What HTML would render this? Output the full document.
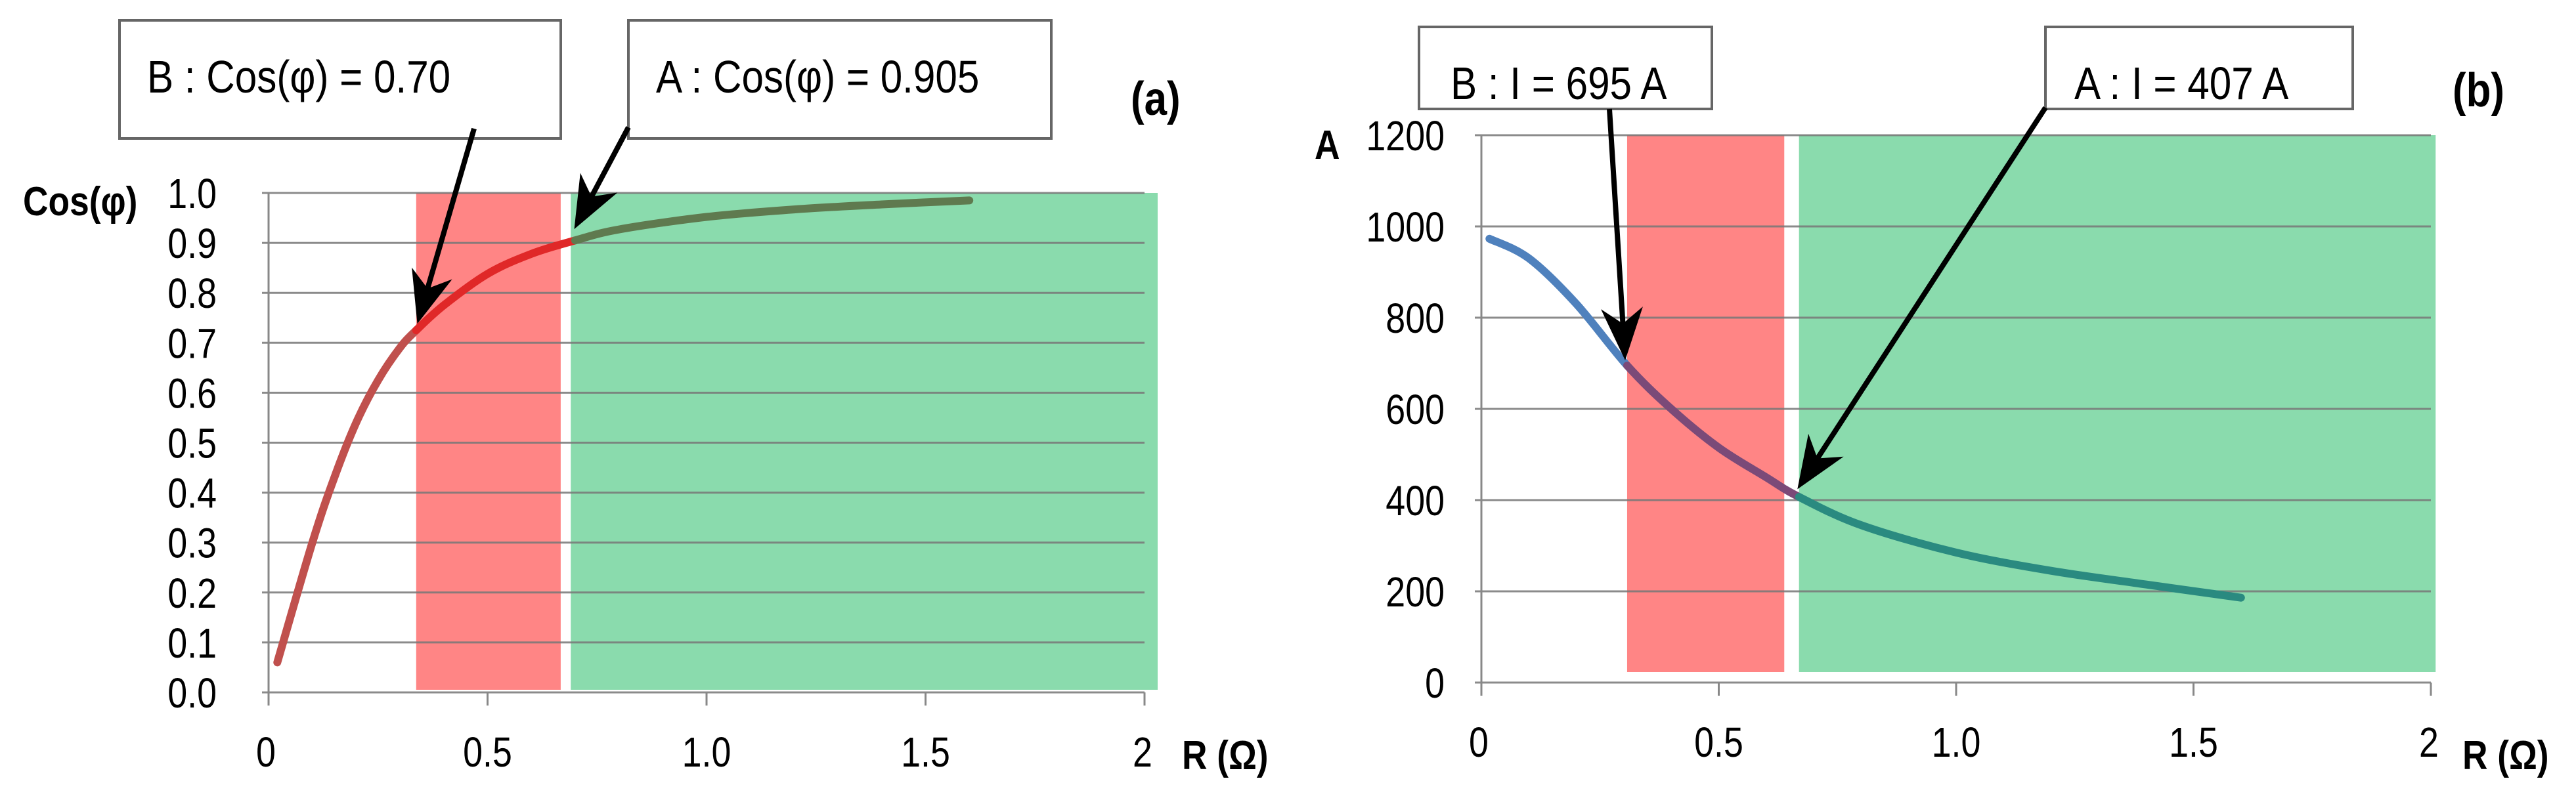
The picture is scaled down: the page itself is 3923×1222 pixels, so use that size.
<!DOCTYPE html>
<html><head><meta charset="utf-8"><style>
html,body{margin:0;padding:0;background:#fff;}
svg{display:block;font-family:"Liberation Sans",sans-serif;}
</style></head><body>
<svg id="chart" width="3923" height="1222" viewBox="0 0 3923 1222" xmlns="http://www.w3.org/2000/svg">
<defs>
<marker id="ah" markerWidth="10" markerHeight="10" refX="8" refY="5" orient="auto" markerUnits="strokeWidth"><path d="M0,1 L10,5 L0,9 L3,5 z" fill="#000"/></marker>
</defs>
<g id="pa"></g>
<g id="pb"></g>
</svg>
<script>
// Panel (a) data
const rA = [0.02,0.1,0.15,0.2,0.25,0.3,0.337,0.4,0.5,0.6,0.7,0.8,1.0,1.2,1.4,1.6];
const cosA = [0.06,0.30,0.43,0.54,0.625,0.69,0.725,0.775,0.838,0.878,0.905,0.927,0.952,0.967,0.977,0.985];
const yTicksA = [0,0.1,0.2,0.3,0.4,0.5,0.6,0.7,0.8,0.9,1.0];
const yTickLabelsA = ["0.0","0.1","0.2","0.3","0.4","0.5","0.6","0.7","0.8","0.9","1.0"];
const xTicks = [0,0.5,1.0,1.5,2];
const xTickLabels = ["0","0.5","1.0","1.5","2"];
const bandsA = [[0.337,0.667,"#ff8585"],[0.69,2.03,"#8adbad"]];
// Panel (b) data
const rB = [0.017,0.1,0.2,0.307,0.4,0.5,0.6,0.669,0.8,1.0,1.2,1.4,1.6];
const iB = [973,930,830,695,600,515,450,407,345,285,245,215,186];
const yTicksB = [0,200,400,600,800,1000,1200];
const yTickLabelsB = ["0","200","400","600","800","1000","1200"];
const bandsB = [[0.307,0.638,"#ff8585"],[0.669,2.01,"#8adbad"]];

const NS="http://www.w3.org/2000/svg";
function mk(parent,tag,attrs,text){const e=document.createElementNS(NS,tag);for(const k in attrs)e.setAttribute(k,attrs[k]);if(text!==undefined)e.textContent=text;parent.appendChild(e);return e;}

function panel(g,cfg){
  const sx=v=>cfg.x0+(v-0)*(cfg.x1-cfg.x0)/2;
  const sy=v=>cfg.y0-(v-cfg.ymin)*(cfg.y0-cfg.y1)/(cfg.ymax-cfg.ymin);
  cfg.bands.forEach((b,i)=>{
    const r=mk(g,'rect',{x:sx(b[0]),y:sy(cfg.ymax),width:sx(b[1])-sx(b[0]),height:cfg.bandBottom-sy(cfg.ymax),fill:b[2]});
    
    
  });
  cfg.yt.forEach((v,i)=>{
    const l=mk(g,'line',{x1:cfg.x0-10,x2:sx(2),y1:sy(v),y2:sy(v),stroke:'#777','stroke-opacity':0.85,'stroke-width':3});
    
    
    const t=mk(g,'text',{x:0,y:0,'text-anchor':'end','font-size':64,fill:'#000',transform:`translate(${cfg.labelX},${sy(v)+23}) scale(0.84,1)`},cfg.ytl[i]);
    
    
  });
  const ax=mk(g,'line',{x1:cfg.x0,x2:cfg.x0,y1:sy(cfg.ymax),y2:sy(cfg.ymin)+20,stroke:'#888','stroke-width':3});
  
  
  xTicks.forEach((v,i)=>{
    const tk=mk(g,'line',{x1:sx(v),x2:sx(v),y1:sy(cfg.ymin),y2:sy(cfg.ymin)+20,stroke:'#888','stroke-width':3});
    
    
    const t=mk(g,'text',{x:0,y:0,'text-anchor':'middle','font-size':64,transform:`translate(${sx(v)-(i==4?3:(i==0?4:0))},${cfg.xLabelY}) scale(0.84,1)`},xTickLabels[i]);
    
    
  });
  const P=cfg.xs.map((x,i)=>[sx(x),sy(cfg.ys[i])]);
  cfg.segs.forEach(s=>{
    let d='';
    for(let i=0;i<P.length-1;i++){
      if(cfg.xs[i]<s[0]-1e-9||cfg.xs[i+1]>s[1]+1e-9)continue;
      const p0=P[Math.max(0,i-1)],p1=P[i],p2=P[i+1],p3=P[Math.min(P.length-1,i+2)];
      const c1=[p1[0]+(p2[0]-p0[0])/6,p1[1]+(p2[1]-p0[1])/6];
      const c2=[p2[0]-(p3[0]-p1[0])/6,p2[1]-(p3[1]-p1[1])/6];
      if(!d)d='M'+p1[0].toFixed(1)+','+p1[1].toFixed(1);
      d+=' C'+c1.map(v=>v.toFixed(1)).join(',')+' '+c2.map(v=>v.toFixed(1)).join(',')+' '+p2.map(v=>v.toFixed(1)).join(',');
    }
    const p=mk(g,'path',{d:d,fill:'none',stroke:s[2],'stroke-width':12,'stroke-linecap':'round','stroke-linejoin':'round'});
    
    
  });
  cfg.boxes.forEach(b=>{
    const r=mk(g,'rect',{x:b[0],y:b[1],width:b[2],height:b[3],fill:'#fff',stroke:'#666','stroke-width':4});
    
    
    const t=mk(g,'text',{x:0,y:0,'font-size':70,transform:`translate(${b[0]+b[5]},${b[1]+b[6]}) scale(0.86,1)`},b[4]);
    
    
  });
  cfg.arrows.forEach(a=>{
    const l=mk(g,'line',{x1:a[0],y1:a[1],x2:a[2],y2:a[3],stroke:'#000','stroke-width':8,'marker-end':'url(#ah)'});
    
    
  });
  cfg.texts.forEach(tx=>{
    const t=mk(g,'text',{x:0,y:0,'font-size':tx[3],'font-weight':'bold',transform:`translate(${tx[0]},${tx[1]}) scale(0.86,1)`},tx[2]);
    
    
  });
}

panel(document.getElementById('pa'),{
  x0:409,x1:1743,y0:1055,y1:294,ymin:0,ymax:1,bandBottom:1051,
  yt:yTicksA,ytl:yTickLabelsA,labelX:330,xLabelY:1168,bands:bandsA,
  xs:rA,ys:cosA,
  segs:[[0,0.337,'#c0504d'],[0.337,0.7,'#e02828'],[0.7,2,'#5f7a4f']],
  boxes:[[182,31,672,180,'B : Cos(φ) = 0.70',42,110],[957,31,644,180,'A : Cos(φ) = 0.905',42,110]],
  arrows:[[722,196,640,478],[957,194,882,335]],
  texts:[[1722,175,'(a)',72,'panel-label'],[35,328,'Cos(φ)',62,'y-axis-title'],[1800,1172,'R (Ω)',62,'x-axis-title']]
});
panel(document.getElementById('pb'),{
  x0:2256,x1:3702,y0:1040,y1:206,ymin:0,ymax:1200,bandBottom:1024,
  yt:yTicksB,ytl:yTickLabelsB,labelX:2200,xLabelY:1153,bands:bandsB,
  xs:rB,ys:iB,
  segs:[[0,0.307,'#4f81bd'],[0.307,0.669,'#7b4a78'],[0.669,2,'#2a8a80']],
  boxes:[[2161,41,446,125,'B : I = 695 A',48,110],[3115,41,468,125,'A : I = 407 A',44,110]],
  arrows:[[2451,166,2474,533],[3115,164,2746,732]],
  texts:[[3735,162,'(b)',72,'panel-label'],[2002,242,'A',62,'y-axis-title'],[3750,1172,'R (Ω)',62,'x-axis-title']]
});
</script>
</body></html>
